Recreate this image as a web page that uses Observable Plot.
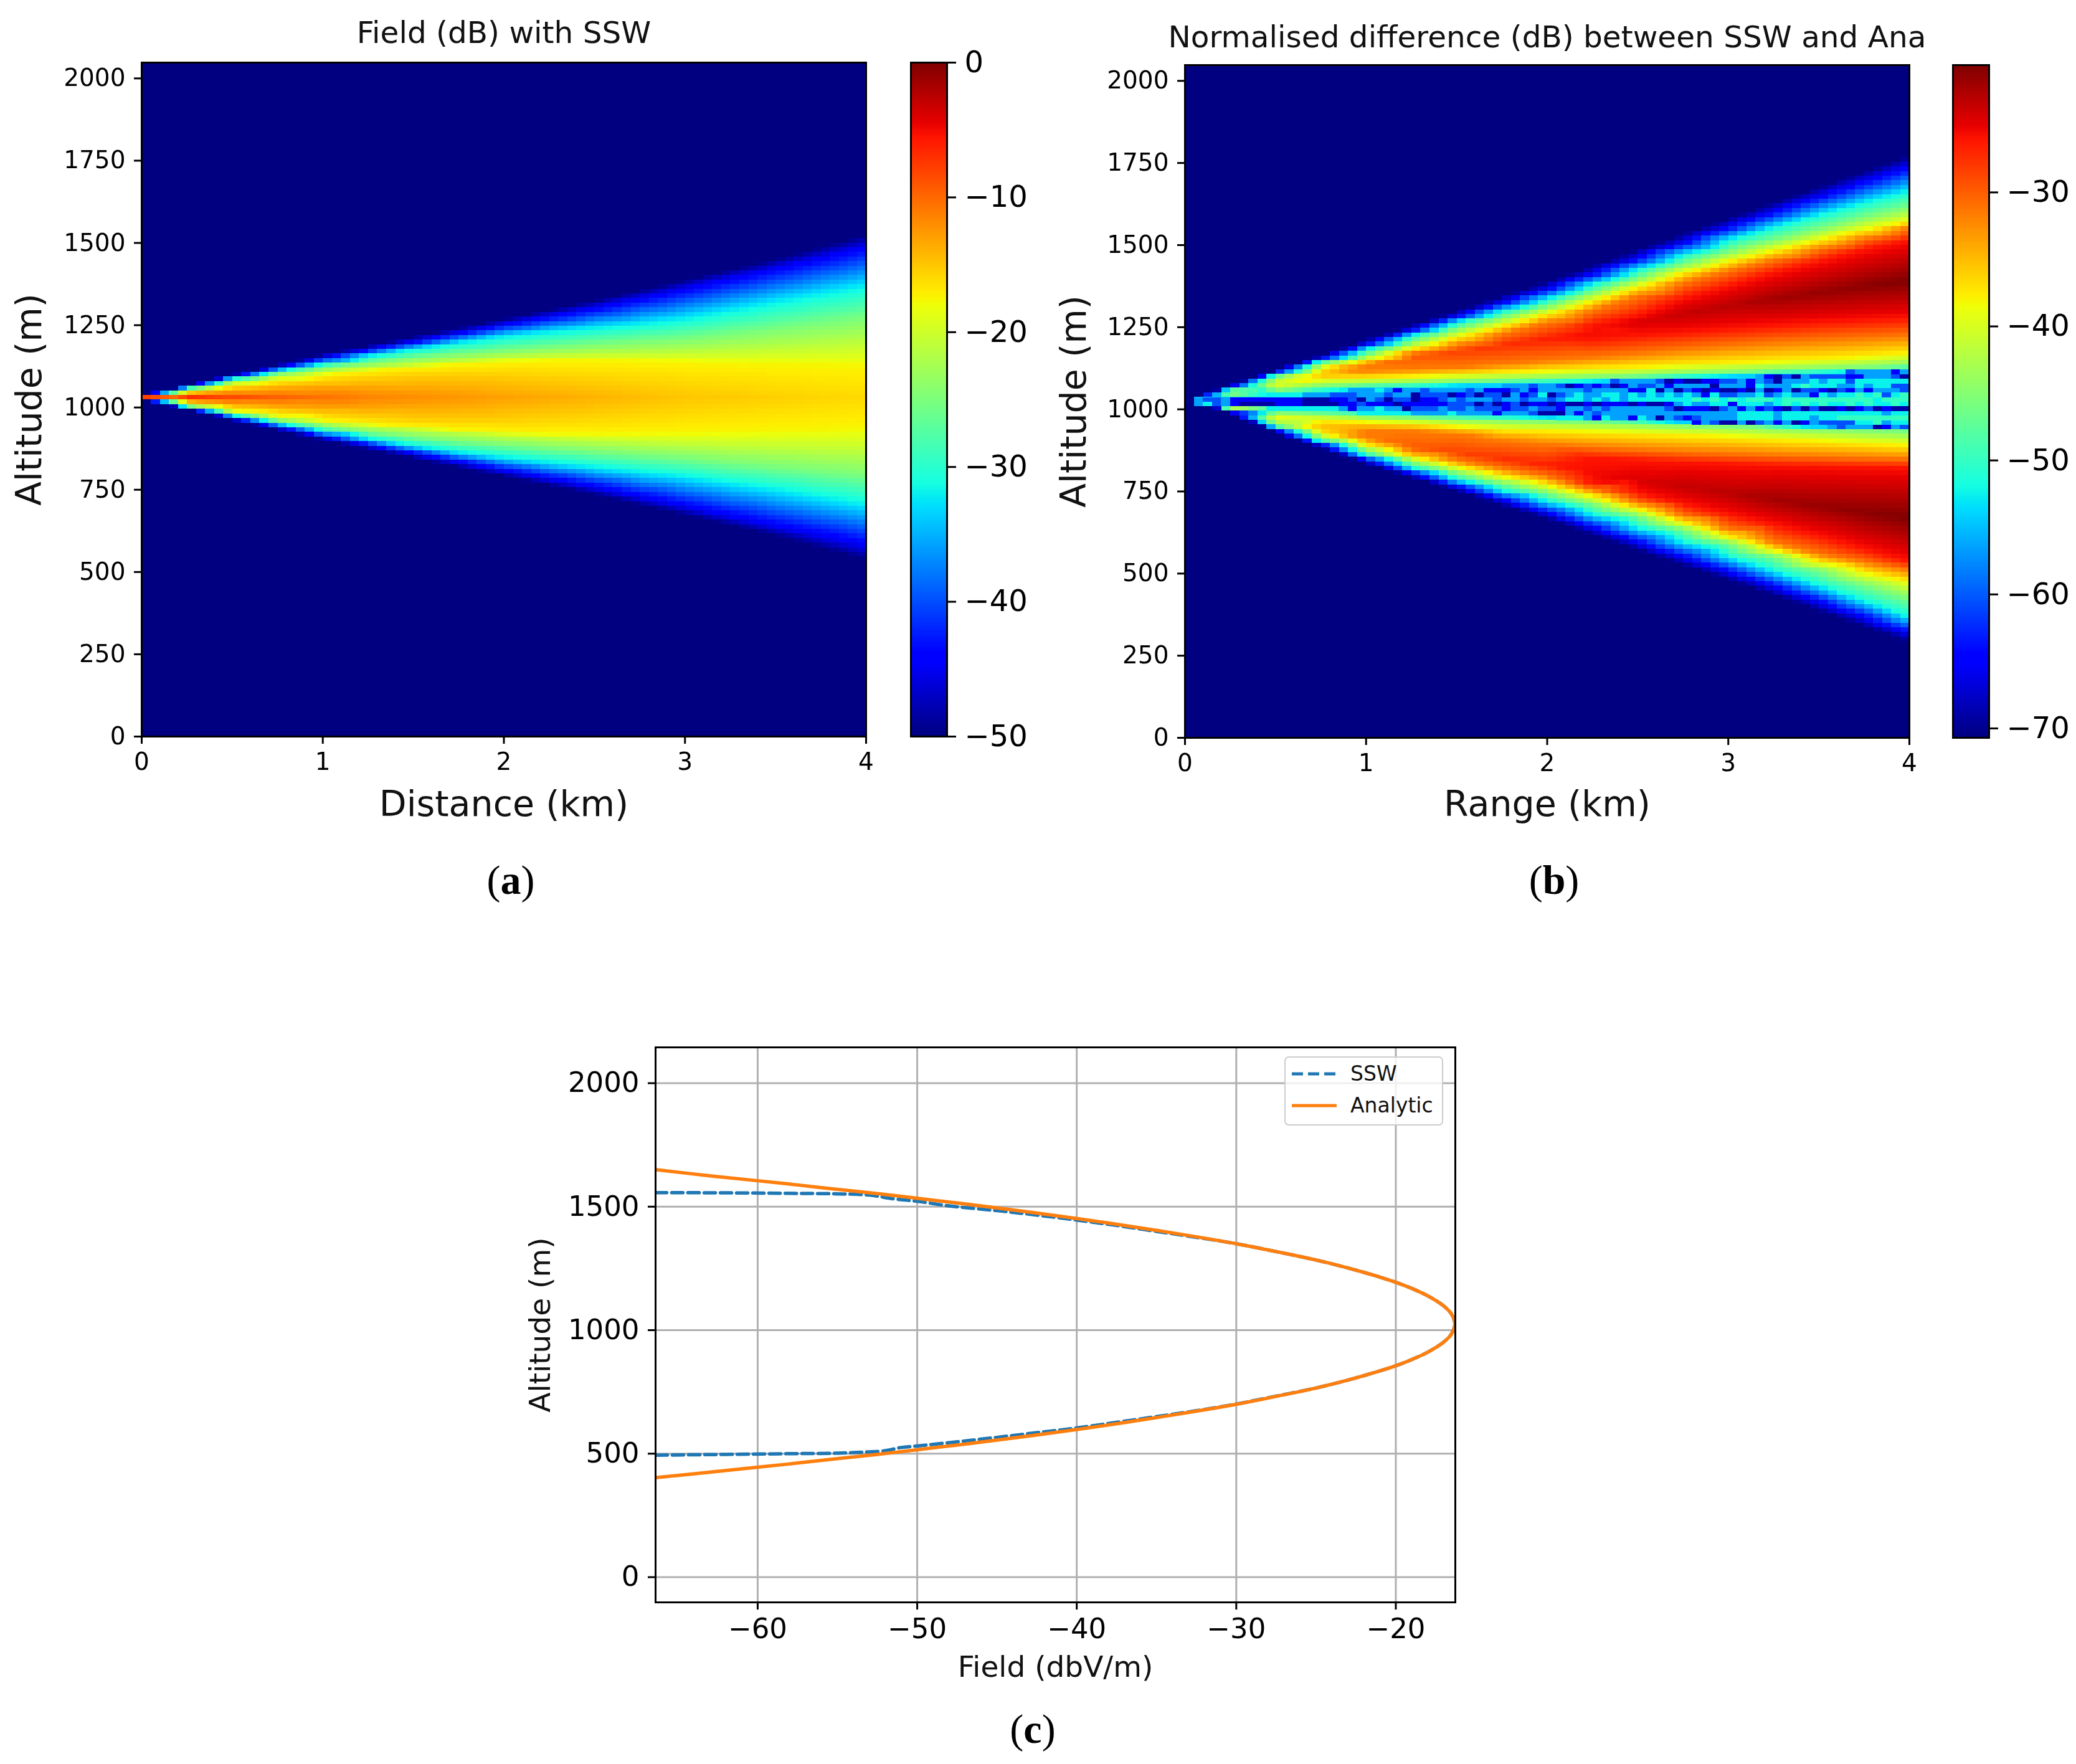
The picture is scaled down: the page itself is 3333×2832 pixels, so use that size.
<!DOCTYPE html>
<html><head><meta charset="utf-8">
<script src="https://cdn.jsdelivr.net/npm/d3@7"></script>
<script src="https://cdn.jsdelivr.net/npm/@observablehq/plot@0.6"></script>
<style>
html,body{margin:0;padding:0;background:#fff}
#page{position:relative;width:3333px;height:2832px;background:#fff;overflow:hidden;font-family:"DejaVu Sans",sans-serif}
#page svg{position:absolute;overflow:visible;background:transparent;filter:blur(0.7px)}
.cap{position:absolute;font-family:"Liberation Serif",serif;font-size:66px;transform:translateX(-50%);line-height:1}
#legend{position:absolute;left:2062px;top:1696px;width:255px;height:111px;box-sizing:border-box;border:2px solid #ccc;border-radius:7px;background:rgba(255,255,255,.8);font-size:33px;color:#111}
#legend span{position:absolute;left:104px}
#legend svg{position:absolute;left:8px;top:0;width:76px;height:107px;filter:none}
</style></head><body><div id="page"></div>
<script>
const _ = null;
// ---------- Panel (a): altitude (m) of each colour contour, read per range column
const aRanges = [0.025,0.25,0.5,0.75,1,1.25,1.5,1.75,2,2.25,2.5,2.75,3,3.25,3.5,3.75,4];
const aEdgeUp  = [1042,1068,1100,1130,1162,1188,1215,1242,1270,1297,1325,1356,1388,1419,1452,1488,1526];
const aBlueUp  = [1040,1064,1095,1122,1150,1175,1200,1226,1252,1277,1302,1331,1360,1391,1422,1454,1488];
const aCyanUp  = [1037,1060,1088,1112,1135,1157,1178,1198,1218,1232,1245,1258,1275,1299,1325,1350,1375];
const aGreenUp = [1035,1057,1082,1102,1120,1135,1150,1162,1172,1182,1192,1200,1208,1222,1238,1255,1272];
const aLimeUp  = [1034,1053,1075,1092,1108,1120,1132,1142,1152,1158,1162,1164,1168,1173,1180,1188,1198];
const aYellowUp= [1033,1050,1070,1085,1098,1112,1122,1132,1140,1143,1143,1142,1140,1135,1132,1129,1126];
const aGoldUp  = [_,1045,1060,1070,1080,1090,1098,1100,1098,1090,1082,1070,1055,_,_,_,_];
const aAmberUp = [_,1040,1050,1056,1060,1058,1052,1045,_,_,_,_,_,_,_,_,_];
const aPeakAlt = [1030,1030,1030,1030,1030,1030,1030,1030,1030,1030,1030,1030,1030,1030,1030,1030,1030];
const aPeakDb  = [-3,-6,-8,-9.5,-10.5,-11.5,-12,-12.5,-13,-13.5,-14,-14.5,-15,-15.2,-15.5,-15.8,-16];
const aAmberLo = [_,1020,1010,1004,1000,1002,1008,1015,_,_,_,_,_,_,_,_,_];
const aGoldLo  = [_,1015,1000,990,980,970,962,960,962,970,978,990,1005,_,_,_,_];
const aYellowLo= [1027,1010,990,975,962,950,940,932,925,920,920,921,922,925,930,934,938];
const aLimeLo  = [1026,1007,985,968,955,943,932,922,912,905,898,892,886,880,875,870,865];
const aGreenLo = [1025,1004,980,960,942,925,910,897,887,876,866,856,846,832,820,807,793];
const aCyanLo  = [1023,1000,975,950,925,903,882,862,845,830,815,800,785,765,745,722,698];
const aBlueLo  = [1020,997,968,940,910,886,860,834,808,783,758,729,700,670,640,612,581];
const aEdgeLo  = [1018,992,960,930,900,872,845,817,790,762,735,703,672,641,608,572,534];
const aContours = [[aEdgeUp,-50],[aBlueUp,-44.5],[aCyanUp,-32.5],[aGreenUp,-25],[aLimeUp,-21],[aYellowUp,-17.5],[aGoldUp,-15.5],[aAmberUp,-13],
  [aPeakAlt,aPeakDb],[aAmberLo,-13],[aGoldLo,-15.5],[aYellowLo,-17.5],[aLimeLo,-21],[aGreenLo,-25],[aCyanLo,-32.5],[aBlueLo,-44.5],[aEdgeLo,-50]];

// ---------- Panel (b): same reading, two lobes either side of the centre band
const bRanges = [0.075,0.25,0.5,0.75,1,1.25,1.5,1.75,2,2.25,2.5,2.75,3,3.25,3.5,3.75,4];
const bEdgeUp   = [1042,1075,1120,1165,1212,1256,1300,1345,1390,1438,1487,1535,1582,1630,1677,1725,1772];
const bBlueUp   = [1040,1068,1114,1156,1198,1241,1283,1324,1365,1411,1458,1505,1553,1600,1647,1693,1739];
const bCyanUp   = [_,1062,1106,1148,1183,1224,1265,1300,1335,1380,1425,1470,1515,1552,1590,1627,1663];
const bGreenUp  = [_,1058,1098,1138,1165,1205,1245,1280,1314,1356,1398,1442,1480,1515,1550,1585,1616];
const bYellowUp = [_,_,_,1125,1150,1185,1220,1255,1291,1330,1373,1416,1450,1482,1515,1545,1572];
const bOrangeUp = [_,_,_,_,_,1170,1195,1230,1265,1302,1345,1386,1422,1455,1488,1520,1551];
const bRedUp    = [_,_,_,_,_,_,_,_,_,1255,1285,1338,1375,1415,1450,1485,1515];
const bPeakUp   = [1036,1054,1078,1105,1135,1155,1175,1195,1215,1235,1265,1291,1315,1335,1355,1375,1392];
const bPeakDb   = [-56,-42,-38,-35,-31.5,-30,-28.5,-27.5,-26.5,-25.5,-24.5,-23.5,-23,-22,-21.5,-21,-20.5];
const bRedInUp  = [_,_,_,_,_,_,_,_,_,1215,1225,1235,1245,1255,1265,1272,1278];
const bOrangeInUp=[_,_,_,_,1118,1122,1127,1137,1148,1158,1170,1182,1193,1203,1210,1217,1223];
const bYellowInUp=[_,_,_,1092,1095,1100,1106,1112,1117,1122,1127,1134,1140,1146,1152,1160,1170];
const bGreenInUp= [_,1044,1056,1070,1076,1079,1084,1089,1093,1098,1102,1108,1112,1118,1122,1127,1133];
const bBandUp   = [1032,1036,1046,1052,1060,1066,1072,1076,1080,1085,1090,1095,1100,1105,1110,1115,1120];
const bBandLo   = [1028,1022,1014,1005,998,990,985,981,976,971,966,960,956,951,946,942,938];
const bGreenInLo= [_,1014,992,986,980,975,970,967,964,961,958,954,950,945,941,936,932];
const bYellowInLo=[_,_,_,968,960,956,946,938,935,931,927,922,917,910,904,897,890];
const bOrangeInLo=[_,_,_,_,937,934,925,905,893,885,878,871,866,861,857,853,850];
const bRedInLo  = [_,_,_,_,_,_,_,_,_,850,845,838,833,829,826,824,822];
const bPeakLo   = [1024,1005,972,945,915,890,868,850,830,805,785,765,745,725,705,687,668];
const bRedLo    = [_,_,_,_,_,_,_,_,_,775,745,712,680,650,615,575,537];
const bOrangeLo = [_,_,_,_,_,870,845,820,795,755,715,675,635,595,560,535,510];
const bYellowLo = [_,_,_,925,890,855,825,796,770,735,698,655,612,572,533,503,475];
const bGreenLo  = [_,1000,952,912,872,838,805,775,745,710,675,635,592,552,510,465,423];
const bCyanLo   = [_,996,944,900,858,822,785,752,720,680,640,596,552,510,465,418,368];
const bBlueLo   = [1020,992,937,892,845,804,765,725,685,640,595,550,505,460,415,368,320];
const bEdgeLo   = [1018,985,928,880,833,791,750,707,665,617,570,525,480,434,385,337,290];
const bContours = [[bEdgeUp,-70.7],[bBlueUp,-65],[bCyanUp,-52],[bGreenUp,-45.6],[bYellowUp,-38],[bOrangeUp,-31.5],[bRedUp,-26],
  [bPeakUp,bPeakDb],[bRedInUp,-26],[bOrangeInUp,-31.5],[bYellowInUp,-38],[bGreenInUp,-45.6],[bBandUp,-54],[bBandLo,-54],
  [bGreenInLo,-45.6],[bYellowInLo,-38],[bOrangeInLo,-31.5],[bRedInLo,-26],[bPeakLo,bPeakDb],[bRedLo,-26],[bOrangeLo,-31.5],
  [bYellowLo,-38],[bGreenLo,-45.6],[bCyanLo,-52],[bBlueLo,-65],[bEdgeLo,-70.7]];

// Mottled centre band of (b): one string per altitude row, one character per 0.05 km column ('.' = no cell)
const bandRowAlt = [1113,1099,1085,1071,1057,1043,1029,1015,1001,987,973,959,945];
const bandDbKey  = [-69,-65,-60.5,-56.5,-52.5,-50];
const bandRows = [
 "..........................."+"..........................."+"...................2333313",
 "..........................."+"..........................."+".........31020322221133320",
 "..........................."+"....................2333320"+"10011223132033343442444444",
 "..........................."+"........3332332012120132231"+"33330333143334544433434422",
 "..................333431332"+"333323111231333332333311403"+"02101001030130221021313332",
 ".........444433322233323302"+"220120220312402343344343434"+"34314223342343314344545245",
 ".32231111111100011203202201"+"123233323323323443434344444"+"44545454555455555555554555",
 ".34231000011100001121110111"+"112220201201101001011101001"+"34334414443454545445454454",
 ".........444444443133433022"+"232232221223221332323333332"+"01110231312102020010120100",
 "...................44444433"+"334333313332000313233333333"+"33333334444344444444444344",
 "..........................."+"..............4443143314303"+"21233334444344434455555555",
 "..........................."+"..........................."+"..13200302"+"3130132222"+"445344",
 "..........................."+"..........................."+"................."+"323330132"
];

// ---------- Panel (c): field profile, dBV/m against altitude (m)
const analyticField = [-66.4,-63,-60,-57.5,-55,-52.5,-50,-47.5,-45,-42.5,-40,-37.5,-35,-32.5,-30,-27.5,-25,-23,-22,-21,-20,-19,-18,-17,-16.5,-16.3,-16.5,-17,-18,-19,-20,-21,-22,-23,-25,-27.5,-30,-32.5,-35,-37.5,-40,-42.5,-45,-47.5,-50,-52.5,-55,-57.5,-60,-63,-66.4];
const analyticAlt   = [1650,1625,1605,1588,1570,1553,1534,1515,1495,1474,1452,1429,1404,1378,1350,1318,1284,1252,1234,1215,1194,1169,1139,1098,1064,1025,986,952,911,881,856,835,816,798,766,732,700,672,646,621,598,576,555,535,516,497,480,462,445,425,403];
const sswField = [-66.4,-62,-58,-55,-53,-51.5,-50,-48,-45,-42.5,-40,-37.5,-35,-32.5,-30,-27.5,-25,-23,-22,-21,-20,-19,-18,-17,-16.5,-16.3,-16.5,-17,-18,-19,-20,-21,-22,-23,-25,-27.5,-30,-32.5,-35,-37.5,-40,-42.5,-45,-47.5,-50,-51,-52,-53.5,-55,-58,-62,-66.4];
const sswAlt   = [1557,1556,1554,1552,1547,1532,1522,1503,1484,1466,1446,1424,1400,1376,1350,1318,1284,1252,1234,1215,1194,1169,1139,1098,1064,1025,986,952,911,881,856,835,816,798,766,733,701,674,650,627,604,585,566,548,531,525,512,506,502,500,497,494];

// ---------- Tick labels
const altTicks = [0,250,500,750,1000,1250,1500,1750,2000];
const kmTicks = [0,1,2,3,4];
const cbTicksA = [0,-10,-20,-30,-40,-50];
const cbTicksB = [-30,-40,-50,-60,-70];
const fieldTicks = [-60,-50,-40,-30,-20];
const profileAltTicks = [0,500,1000,1500,2000];

// matplotlib "jet" segments
const jetR = d3.scaleLinear([0,.35,.66,.89,1],[0,0,1,1,.5]).clamp(true);
const jetG = d3.scaleLinear([0,.125,.375,.64,.91,1],[0,0,1,1,0,0]).clamp(true);
const jetB = d3.scaleLinear([0,.11,.34,.65,1],[.5,1,1,0,0]).clamp(true);
const jet = t => `rgb(${Math.round(255*jetR(t))},${Math.round(255*jetG(t))},${Math.round(255*jetB(t))})`;

const page = document.getElementById("page");
const FONT = '"DejaVu Sans",sans-serif';
function place(svg,left,top){svg.style.left=left+"px";svg.style.top=top+"px";svg.style.fontFamily=FONT;page.appendChild(svg);}
function samplesFrom(ranges,contours,floor){
  const out=[];
  contours.forEach(([alts,db])=>alts.forEach((a,i)=>{ if(a!=null) out.push({x:ranges[i],y:a,v:Array.isArray(db)?db[i]:db}); }));
  for(const x of [0,4]) for(const y of [0,2048]) out.push({x,y,v:floor});
  return out;
}
const labelStyle=(size)=>({fontSize:size,fill:"#111",textAnchor:"middle"});

function heatPanel({left,top,width,mT,mB,mL,mR,samples,extra,domain,title,titleDy,xlabel,ylabel,ylabelDx,xlabelDy}){
  const color={type:"linear",domain,interpolate:jet,clamp:true};
  const svg=Plot.plot({width,height:1300,marginLeft:mL,marginRight:mR,marginTop:mT,marginBottom:mB,
    x:{domain:[0,4]},y:{domain:[0,2048]},color,
    marks:[
      Plot.raster(samples,{x:"x",y:"y",fill:"v",x1:0,x2:4,y1:0,y2:2048,width:80,height:146,interpolate:"barycentric",imageRendering:"pixelated"}),
      ...extra,
      Plot.frame({stroke:"#000",strokeWidth:3}),
      Plot.axisX({ticks:kmTicks,tickFormat:d3.format("d"),label:null,tickSize:12,tickPadding:14,fontSize:39,strokeWidth:3}),
      Plot.axisY({ticks:altTicks,tickFormat:d3.format("d"),label:null,tickSize:12,tickPadding:14,fontSize:39,strokeWidth:3}),
      Plot.text([title],{text:d=>d,frameAnchor:"top",dy:titleDy,...labelStyle(48.5)}),
      Plot.text([xlabel],{text:d=>d,frameAnchor:"bottom",dy:xlabelDy,...labelStyle(57)}),
      Plot.text([ylabel],{text:d=>d,frameAnchor:"left",rotate:-90,dx:ylabelDx,...labelStyle(57)})
    ]});
  place(svg,left,top);
  return svg;
}
function colorbar({left,top,mT,mB,mL,domain,ticks}){
  const svg=Plot.plot({width:220,height:1300,marginLeft:mL,marginRight:220-mL-58,marginTop:mT,marginBottom:mB,
    x:{domain:[0,1],axis:null},y:{domain},color:{type:"linear",domain,interpolate:jet,clamp:true},
    marks:[
      Plot.raster({fill:(x,y)=>y,x1:0,x2:1,y1:domain[0],y2:domain[1],width:1,height:256,imageRendering:"pixelated"}),
      Plot.frame({stroke:"#000",strokeWidth:3}),
      Plot.axisY({anchor:"right",ticks,tickFormat:d3.format("d"),label:null,tickSize:14,tickPadding:14,fontSize:48,strokeWidth:3})
    ]});
  place(svg,left,top);
}

// Panel (a)
heatPanel({left:0,top:2,width:1440,mT:98,mB:120,mL:227,mR:50,
  samples:samplesFrom(aRanges,aContours,-50),extra:[],domain:[-50,0],
  title:"Field (dB) with SSW",titleDy:-66,xlabel:"Distance (km)",xlabelDy:127,ylabel:"Altitude (m)",ylabelDx:-180});
colorbar({left:1440,top:2,mT:98,mB:120,mL:22,domain:[-50,0],ticks:cbTicksA});

// Panel (b)
const bandCells=[];
bandRows.forEach((row,r)=>[...row].forEach((ch,c)=>{
  if(ch!==".") bandCells.push({c,alt:bandRowAlt[r],db:bandDbKey[+ch]});
}));
const bSamples=samplesFrom(bRanges,bContours,-70.7);
for(const y of [0,1030,2048]) bSamples.push({x:0.03,y,v:-70.7});
heatPanel({left:1660,top:2,width:1460,mT:102,mB:118,mL:242,mR:55,
  samples:bSamples,
  extra:[Plot.rect(bandCells,{x1:d=>d.c*0.05,x2:d=>(d.c+1)*0.05,y1:d=>d.alt-7,y2:d=>d.alt+7,fill:"db",shapeRendering:"crispEdges"})],
  domain:[-70.7,-20.5],
  title:"Normalised difference (dB) between SSW and Ana",titleDy:-63,xlabel:"Range (km)",xlabelDy:125,ylabel:"Altitude (m)",ylabelDx:-178});
colorbar({left:3110,top:2,mT:102,mB:118,mL:25,domain:[-70.7,-20.5],ticks:cbTicksB});

// Panel (c)
const analytic=analyticField.map((x,i)=>({x,y:analyticAlt[i]}));
const ssw=sswField.map((x,i)=>({x,y:sswAlt[i]}));
const c=Plot.plot({width:1600,height:1100,marginLeft:252,marginRight:64,marginTop:39,marginBottom:170,
  x:{domain:[-66.4,-16.27]},y:{domain:[-102,2145]},
  marks:[
    Plot.gridX({ticks:fieldTicks,stroke:"#b0b0b0",strokeOpacity:1,strokeWidth:3}),
    Plot.gridY({ticks:profileAltTicks,stroke:"#b0b0b0",strokeOpacity:1,strokeWidth:3}),
    Plot.line(ssw,{x:"x",y:"y",stroke:"#1f77b4",strokeWidth:5.5,strokeDasharray:"18,8",curve:"catmull-rom",clip:true}),
    Plot.line(analytic,{x:"x",y:"y",stroke:"#ff7f0e",strokeWidth:5.5,curve:"catmull-rom",clip:true}),
    Plot.frame({stroke:"#000",strokeWidth:3}),
    Plot.axisX({ticks:fieldTicks,tickFormat:d3.format("d"),label:null,tickSize:12,tickPadding:14,fontSize:45,strokeWidth:3}),
    Plot.axisY({ticks:profileAltTicks,tickFormat:d3.format("d"),label:null,tickSize:12,tickPadding:14,fontSize:45,strokeWidth:3}),
    Plot.text(["Field (dbV/m)"],{text:d=>d,frameAnchor:"bottom",dy:119,...labelStyle(47)}),
    Plot.text(["Altitude (m)"],{text:d=>d,frameAnchor:"left",rotate:-90,dx:-185,...labelStyle(47)})
  ]});
place(c,800,1642);

// Legend of (c)
const legend=document.createElement("div");legend.id="legend";
legend.innerHTML=`<svg viewBox="0 0 76 107"><line x1="2" x2="74" y1="26" y2="26" stroke="#1f77b4" stroke-width="5" stroke-dasharray="18,8"/><line x1="2" x2="74" y1="77" y2="77" stroke="#ff7f0e" stroke-width="5"/></svg>
<span style="top:6px">SSW</span><span style="top:57px">Analytic</span>`;
page.appendChild(legend);

// Sub-figure captions
for(const [t,x,y] of [["a",820,1380],["b",2495,1380],["c",1658,2743]]){
  const d=document.createElement("div");d.className="cap";d.style.left=x+"px";d.style.top=y+"px";
  d.innerHTML=`(<b>${t}</b>)`;page.appendChild(d);
}
</script></body></html>
